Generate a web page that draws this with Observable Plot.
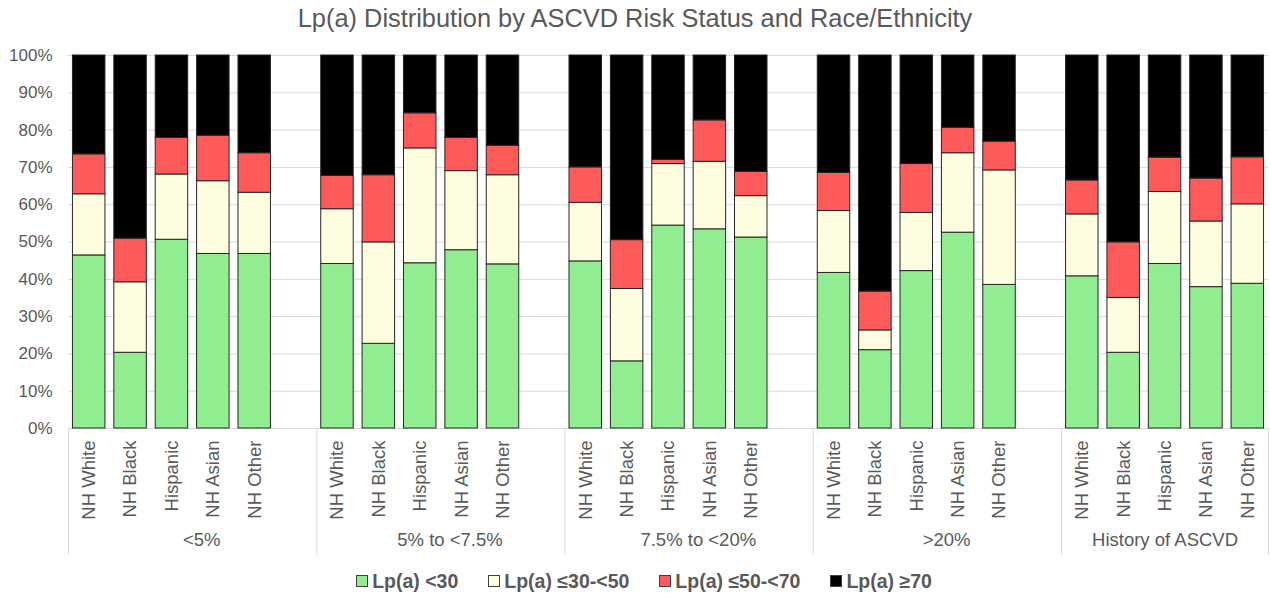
<!DOCTYPE html>
<html>
<head>
<meta charset="utf-8">
<script src="https://cdn.jsdelivr.net/npm/d3@7"></script>
<script src="https://cdn.jsdelivr.net/npm/@observablehq/plot@0.6"></script>
<style>
  html, body { margin: 0; padding: 0; background: #fff; }
  body { width: 1270px; height: 598px; overflow: hidden; font-family: "Liberation Sans", Arial, sans-serif; }
  #title { height: 36px; line-height: 36px; text-align: center; font-size: 25.4px; color: #595959; }
  #chart svg { display: block; }
  #legend { height: 34px; display: flex; justify-content: center; align-items: center; gap: 30px; padding-left: 18px;
            font-size: 19.5px; font-weight: bold; color: #595959; }
  .item { display: flex; align-items: center; }
  .sw { width: 10px; height: 10px; border: 1px solid #404040; margin-right: 4px; }
</style>
</head>
<body>
<div id="title">Lp(a) Distribution by ASCVD Risk Status and Race/Ethnicity</div>
<div id="chart"></div>
<div id="legend"></div>
<script>
// ---- data ----
const groups = ["<5%", "5% to <7.5%", "7.5% to <20%", ">20%", "History of ASCVD"];
const races = ["NH White", "NH Black", "Hispanic", "NH Asian", "NH Other"];
const seriesNames = ["Lp(a) <30", "Lp(a) \u226430-<50", "Lp(a) \u226450-<70", "Lp(a) \u226570"];
const seriesColors = ["#90EE90", "#FFFDE0", "#FF5A5A", "#000000"];
const yTicks = [0, 10, 20, 30, 40, 50, 60, 70, 80, 90, 100];

// values in %, ordered group by group, race by race
const lpLt30 = [46.4, 20.3, 50.6, 46.8, 46.8,  44.1, 22.7, 44.3, 47.8, 44.0,  44.8, 18.0, 54.4, 53.4, 51.2,  41.7, 21.0, 42.2, 52.5, 38.5,  40.8, 20.3, 44.1, 37.9, 38.8];
const lp30to50 = [16.4, 18.9, 17.5, 19.5, 16.4,  14.7, 27.2, 30.8, 21.2, 23.9,  15.7, 19.4, 16.5, 18.1, 11.1,  16.6, 5.3, 15.6, 21.3, 30.7,  16.6, 14.7, 19.3, 17.6, 21.3];
const lp50to70 = [10.7, 11.7, 9.8, 12.2, 10.6,  8.9, 18.0, 9.4, 8.9, 7.9,  9.5, 13.1, 1.1, 11.1, 6.5,  10.2, 10.4, 13.1, 6.8, 7.7,  9.1, 14.9, 9.2, 11.5, 12.6];
const lpGe70 = [26.5, 49.1, 22.1, 21.5, 26.2,  32.3, 32.1, 15.5, 22.1, 24.2,  30.0, 49.5, 28.0, 17.4, 31.2,  31.5, 63.3, 29.1, 19.4, 23.1,  33.5, 50.1, 27.4, 33.0, 27.3];
const seriesValues = [lpLt30, lp30to50, lp50to70, lpGe70];

// ---- build table ----
const xDomain = [];
groups.forEach((g, gi) => {
  races.forEach(r => xDomain.push(g + "|" + r));
  if (gi < groups.length - 1) xDomain.push(g + "|");
});
const table = [];
seriesNames.forEach((s, si) => {
  groups.forEach((g, gi) => {
    races.forEach((r, ri) => {
      table.push({key: g + "|" + r, series: s, value: seriesValues[si][gi * races.length + ri]});
    });
  });
});
const firstKeys = groups.map(g => g + "|" + races[0]);
const lastKey = groups[groups.length - 1] + "|" + races[races.length - 1];

// ---- layout ----
const W = 1270, H = 528, mL = 68, mR = 2, mT = 19, mB = 136;
const step = (W - mL - mR) / xDomain.length;
const plotH = H - mT - mB;
const sep = {stroke: "#d9d9d9", strokeWidth: 1, insetTop: plotH, insetBottom: -127};

const chart = Plot.plot({
  width: W, height: H,
  marginLeft: mL, marginRight: mR, marginTop: mT, marginBottom: mB,
  style: {fontFamily: "'Liberation Sans', Arial, sans-serif", fontSize: "17px", color: "#595959", background: "#fff", overflow: "visible"},
  x: {domain: xDomain, paddingInner: 0.215, paddingOuter: 0.1075, round: false},
  y: {domain: [0, 100]},
  color: {domain: seriesNames, range: seriesColors},
  marks: [
    Plot.gridY({ticks: yTicks, stroke: "#d9d9d9", strokeOpacity: 1}),
    Plot.axisY({ticks: yTicks, tickSize: 0, tickPadding: 16, tickFormat: d => d + "%", label: null, fontSize: 17}),
    Plot.barY(table, {x: "key", y: "value", fill: "series", stroke: "#262626", strokeWidth: 1}),
    Plot.axisX({tickRotate: -90, tickSize: 0, tickPadding: 12, tickFormat: d => d.split("|")[1], label: null, fontSize: 18.5}),
    Plot.ruleX(firstKeys, {x: d => d, dx: -step / 2, ...sep}),
    Plot.ruleX([lastKey], {x: d => d, dx: step / 2, ...sep}),
    Plot.text(groups.slice(0, groups.length - 1), {x: g => g + "|" + races[2], dx: 0.72 * step, frameAnchor: "bottom", dy: 117, fontSize: 18.5, text: d => d}),
    Plot.text(groups.slice(groups.length - 1), {x: g => g + "|" + races[2], frameAnchor: "bottom", dy: 117, fontSize: 18.5, text: d => d})
  ]
});
document.getElementById("chart").appendChild(chart);

// ---- legend ----
const legend = document.getElementById("legend");
seriesNames.forEach((s, i) => {
  const item = document.createElement("div");
  item.className = "item";
  const sw = document.createElement("span");
  sw.className = "sw";
  sw.style.background = seriesColors[i];
  const label = document.createElement("span");
  label.textContent = s;
  item.appendChild(sw);
  item.appendChild(label);
  legend.appendChild(item);
});
</script>
</body>
</html>
